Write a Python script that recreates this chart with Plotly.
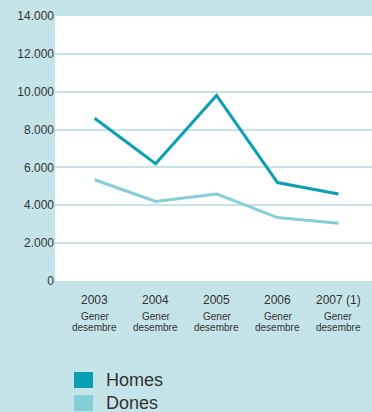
import plotly.graph_objects as go

years = ["2003", "2004", "2005", "2006", "2007 (1)"]
period_top = ["Gener"] * 5
period_bottom = ["desembre"] * 5
homes = [8600, 6200, 9800, 5200, 4600]
dones = [5350, 4200, 4600, 3350, 3050]
y_ticks = [0, 2000, 4000, 6000, 8000, 10000, 12000, 14000]
series_names = ["Homes", "Dones"]

BG = "#c4e4ea"
HOMES_COL = "#0a9fb3"
DONES_COL = "#84ced8"

W, H = 372, 412
M = dict(l=55, r=0, t=16, b=131)
plot_w = W - M["l"] - M["r"]
plot_h = H - M["t"] - M["b"]


def px_x(px):
    return (px - M["l"]) / plot_w


def px_y(py):
    return (H - M["b"] - py) / plot_h


fig = go.Figure()
fig.add_trace(go.Scatter(x=list(range(5)), y=homes, mode="lines", name="Homes",
                         line=dict(color=HOMES_COL, width=3), showlegend=False))
fig.add_trace(go.Scatter(x=list(range(5)), y=dones, mode="lines", name="Dones",
                         line=dict(color=DONES_COL, width=3), showlegend=False))

# category labels below the axis (two sizes)
for i in range(len(years)):
    fig.add_annotation(x=i, y=0, xref="x", yref="paper", text=years[i], showarrow=False,
                       yanchor="middle", yshift=-19, font=dict(size=12))
    fig.add_annotation(x=i, y=0, xref="x", yref="paper", text=period_top[i], showarrow=False,
                       yanchor="middle", yshift=-35, font=dict(size=10))
    fig.add_annotation(x=i, y=0, xref="x", yref="paper", text=period_bottom[i], showarrow=False,
                       yanchor="middle", yshift=-46, font=dict(size=10))

# legend drawn by hand (it runs off the bottom edge in the original)
for k, (name, col) in enumerate(zip(series_names, (HOMES_COL, DONES_COL))):
    top = 372 + 23 * k
    fig.add_shape(type="rect", xref="paper", yref="paper",
                  x0=px_x(74), x1=px_x(93), y0=px_y(top + 16), y1=px_y(top),
                  fillcolor=col, line=dict(width=0))
    fig.add_annotation(xref="paper", yref="paper", x=px_x(104), y=px_y(top + 8),
                       text=name, showarrow=False, xanchor="left", yanchor="middle",
                       font=dict(size=18, color="#333333"))

fig.update_layout(
    width=W,
    height=H,
    margin=M,
    paper_bgcolor=BG,
    plot_bgcolor="white",
    separators=",.",
    showlegend=False,
    font=dict(family="Liberation Sans, Arial, sans-serif", color="#333333", size=12),
    xaxis=dict(
        range=[-0.65, 4.55],
        showticklabels=False,
        showgrid=False,
        zeroline=False,
        ticks="",
        showline=False,
        automargin=False,
    ),
    yaxis=dict(
        range=[0, 14000],
        tickvals=y_ticks,
        tickformat=",d",
        gridcolor=BG,
        gridwidth=2,
        zeroline=False,
        ticks="",
        showline=False,
        automargin=False,
    ),
)

fig.write_html("out.html", config={"displayModeBar": False},
               post_script="document.body.style.margin='0';")
